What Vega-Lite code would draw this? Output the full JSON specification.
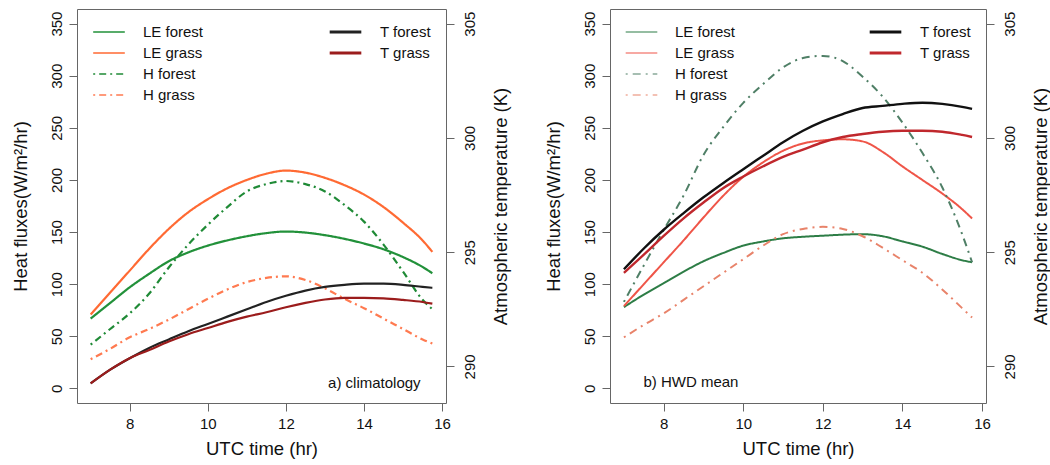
{
  "$schema": "https://vega.github.io/schema/vega-lite/v6.json",
  "padding": {"left": 10, "top": 8, "right": 0, "bottom": 2},
  "config": {
    "font": "Liberation Sans",
    "view": {"stroke": "#666", "strokeWidth": 1},
    "axis": {"grid": false, "domain": false, "tickColor": "#666", "tickSize": 8, "labelFontSize": 15, "labelColor": "#111", "titleFontSize": 18.5, "titleFontWeight": "normal", "titleColor": "#111"},
    "legend": {"title": null, "padding": 0, "labelFontSize": 15, "labelColor": "#111", "symbolType": "stroke", "symbolSize": 1000, "labelOffset": 17, "clipHeight": 16, "rowPadding": 5}
  },
  "datasets": {
    "fluxA": [
      {"t":7,"s":"LE forest","v":67},{"t":7.5,"s":"LE forest","v":82},{"t":8,"s":"LE forest","v":97},{"t":8.5,"s":"LE forest","v":110},{"t":9,"s":"LE forest","v":122},{"t":9.5,"s":"LE forest","v":130.5},{"t":10,"s":"LE forest","v":137},{"t":10.5,"s":"LE forest","v":142},{"t":11,"s":"LE forest","v":146},{"t":11.5,"s":"LE forest","v":149},{"t":12,"s":"LE forest","v":150.5},{"t":12.5,"s":"LE forest","v":149.5},{"t":13,"s":"LE forest","v":147},{"t":13.5,"s":"LE forest","v":143.5},{"t":14,"s":"LE forest","v":139},{"t":14.5,"s":"LE forest","v":133.5},{"t":15,"s":"LE forest","v":126},{"t":15.5,"s":"LE forest","v":116.5},{"t":15.75,"s":"LE forest","v":110.5},
      {"t":7,"s":"LE grass","v":71},{"t":7.5,"s":"LE grass","v":92},{"t":8,"s":"LE grass","v":113},{"t":8.5,"s":"LE grass","v":134},{"t":9,"s":"LE grass","v":153},{"t":9.5,"s":"LE grass","v":169},{"t":10,"s":"LE grass","v":181.5},{"t":10.5,"s":"LE grass","v":192},{"t":11,"s":"LE grass","v":200},{"t":11.5,"s":"LE grass","v":206},{"t":12,"s":"LE grass","v":209},{"t":12.5,"s":"LE grass","v":207},{"t":13,"s":"LE grass","v":202},{"t":13.5,"s":"LE grass","v":195},{"t":14,"s":"LE grass","v":186},{"t":14.5,"s":"LE grass","v":174},{"t":15,"s":"LE grass","v":159},{"t":15.5,"s":"LE grass","v":142},{"t":15.75,"s":"LE grass","v":131},
      {"t":7,"s":"H forest","v":42},{"t":7.5,"s":"H forest","v":57},{"t":8,"s":"H forest","v":72},{"t":8.5,"s":"H forest","v":91},{"t":9,"s":"H forest","v":116},{"t":9.5,"s":"H forest","v":138},{"t":10,"s":"H forest","v":157},{"t":10.5,"s":"H forest","v":174},{"t":11,"s":"H forest","v":189},{"t":11.5,"s":"H forest","v":196},{"t":12,"s":"H forest","v":199},{"t":12.5,"s":"H forest","v":196},{"t":13,"s":"H forest","v":189},{"t":13.5,"s":"H forest","v":176},{"t":14,"s":"H forest","v":160},{"t":14.5,"s":"H forest","v":138},{"t":15,"s":"H forest","v":112},{"t":15.5,"s":"H forest","v":85},{"t":15.75,"s":"H forest","v":76},
      {"t":7,"s":"H grass","v":28},{"t":7.5,"s":"H grass","v":38},{"t":8,"s":"H grass","v":49},{"t":8.5,"s":"H grass","v":57},{"t":9,"s":"H grass","v":66},{"t":9.5,"s":"H grass","v":76},{"t":10,"s":"H grass","v":86},{"t":10.5,"s":"H grass","v":95},{"t":11,"s":"H grass","v":102},{"t":11.5,"s":"H grass","v":106},{"t":12,"s":"H grass","v":107.5},{"t":12.5,"s":"H grass","v":104},{"t":13,"s":"H grass","v":96},{"t":13.5,"s":"H grass","v":86},{"t":14,"s":"H grass","v":77},{"t":14.5,"s":"H grass","v":67},{"t":15,"s":"H grass","v":57},{"t":15.5,"s":"H grass","v":47},{"t":15.75,"s":"H grass","v":43}
    ],
    "tempA": [
      {"t":7,"s":"T forest","k":289.26},{"t":7.5,"s":"T forest","k":289.86},{"t":8,"s":"T forest","k":290.36},{"t":8.5,"s":"T forest","k":290.81},{"t":9,"s":"T forest","k":291.18},{"t":9.5,"s":"T forest","k":291.54},{"t":10,"s":"T forest","k":291.86},{"t":10.5,"s":"T forest","k":292.18},{"t":11,"s":"T forest","k":292.5},{"t":11.5,"s":"T forest","k":292.82},{"t":12,"s":"T forest","k":293.09},{"t":12.5,"s":"T forest","k":293.32},{"t":13,"s":"T forest","k":293.48},{"t":13.5,"s":"T forest","k":293.57},{"t":14,"s":"T forest","k":293.62},{"t":14.5,"s":"T forest","k":293.62},{"t":15,"s":"T forest","k":293.57},{"t":15.5,"s":"T forest","k":293.48},{"t":15.75,"s":"T forest","k":293.44},
      {"t":7,"s":"T grass","k":289.26},{"t":7.5,"s":"T grass","k":289.86},{"t":8,"s":"T grass","k":290.36},{"t":8.5,"s":"T grass","k":290.72},{"t":9,"s":"T grass","k":291.09},{"t":9.5,"s":"T grass","k":291.41},{"t":10,"s":"T grass","k":291.68},{"t":10.5,"s":"T grass","k":291.95},{"t":11,"s":"T grass","k":292.18},{"t":11.5,"s":"T grass","k":292.37},{"t":12,"s":"T grass","k":292.59},{"t":12.5,"s":"T grass","k":292.78},{"t":13,"s":"T grass","k":292.93},{"t":13.5,"s":"T grass","k":293.0},{"t":14,"s":"T grass","k":293.0},{"t":14.5,"s":"T grass","k":292.98},{"t":15,"s":"T grass","k":292.91},{"t":15.5,"s":"T grass","k":292.82},{"t":15.75,"s":"T grass","k":292.75}
    ],
    "fluxB": [
      {"t":7,"s":"LE forest","v":78},{"t":7.5,"s":"LE forest","v":90},{"t":8,"s":"LE forest","v":101},{"t":8.5,"s":"LE forest","v":112},{"t":9,"s":"LE forest","v":122},{"t":9.5,"s":"LE forest","v":130},{"t":10,"s":"LE forest","v":137},{"t":10.5,"s":"LE forest","v":141},{"t":11,"s":"LE forest","v":144},{"t":11.5,"s":"LE forest","v":145.5},{"t":12,"s":"LE forest","v":146.5},{"t":12.5,"s":"LE forest","v":147.5},{"t":13,"s":"LE forest","v":148},{"t":13.5,"s":"LE forest","v":146},{"t":14,"s":"LE forest","v":141},{"t":14.5,"s":"LE forest","v":136},{"t":15,"s":"LE forest","v":129},{"t":15.5,"s":"LE forest","v":123},{"t":15.75,"s":"LE forest","v":121},
      {"t":7,"s":"LE grass","v":79},{"t":7.5,"s":"LE grass","v":100},{"t":8,"s":"LE grass","v":121},{"t":8.5,"s":"LE grass","v":142},{"t":9,"s":"LE grass","v":164},{"t":9.5,"s":"LE grass","v":185},{"t":10,"s":"LE grass","v":203},{"t":10.5,"s":"LE grass","v":217},{"t":11,"s":"LE grass","v":228},{"t":11.5,"s":"LE grass","v":235},{"t":12,"s":"LE grass","v":238},{"t":12.5,"s":"LE grass","v":239},{"t":13,"s":"LE grass","v":237},{"t":13.5,"s":"LE grass","v":227},{"t":14,"s":"LE grass","v":213},{"t":14.5,"s":"LE grass","v":200},{"t":15,"s":"LE grass","v":187},{"t":15.5,"s":"LE grass","v":172},{"t":15.75,"s":"LE grass","v":163},
      {"t":7,"s":"H forest","v":83},{"t":7.5,"s":"H forest","v":118},{"t":8,"s":"H forest","v":152},{"t":8.5,"s":"H forest","v":185},{"t":9,"s":"H forest","v":224},{"t":9.5,"s":"H forest","v":251},{"t":10,"s":"H forest","v":274},{"t":10.5,"s":"H forest","v":292},{"t":11,"s":"H forest","v":308},{"t":11.5,"s":"H forest","v":317},{"t":12,"s":"H forest","v":319},{"t":12.5,"s":"H forest","v":314},{"t":13,"s":"H forest","v":299},{"t":13.5,"s":"H forest","v":280},{"t":14,"s":"H forest","v":255},{"t":14.5,"s":"H forest","v":226},{"t":15,"s":"H forest","v":193},{"t":15.5,"s":"H forest","v":148},{"t":15.75,"s":"H forest","v":121},
      {"t":7,"s":"H grass","v":49},{"t":7.5,"s":"H grass","v":61},{"t":8,"s":"H grass","v":72},{"t":8.5,"s":"H grass","v":85},{"t":9,"s":"H grass","v":98},{"t":9.5,"s":"H grass","v":111},{"t":10,"s":"H grass","v":124},{"t":10.5,"s":"H grass","v":137},{"t":11,"s":"H grass","v":148},{"t":11.5,"s":"H grass","v":153},{"t":12,"s":"H grass","v":155},{"t":12.5,"s":"H grass","v":153},{"t":13,"s":"H grass","v":146},{"t":13.5,"s":"H grass","v":135},{"t":14,"s":"H grass","v":123},{"t":14.5,"s":"H grass","v":111},{"t":15,"s":"H grass","v":95},{"t":15.5,"s":"H grass","v":77},{"t":15.75,"s":"H grass","v":68}
    ],
    "tempB": [
      {"t":7,"s":"T forest","k":294.25},{"t":7.5,"s":"T forest","k":295.16},{"t":8,"s":"T forest","k":295.98},{"t":8.5,"s":"T forest","k":296.71},{"t":9,"s":"T forest","k":297.4},{"t":9.5,"s":"T forest","k":298.03},{"t":10,"s":"T forest","k":298.63},{"t":10.5,"s":"T forest","k":299.22},{"t":11,"s":"T forest","k":299.81},{"t":11.5,"s":"T forest","k":300.31},{"t":12,"s":"T forest","k":300.72},{"t":12.5,"s":"T forest","k":301.04},{"t":13,"s":"T forest","k":301.31},{"t":13.5,"s":"T forest","k":301.4},{"t":14,"s":"T forest","k":301.49},{"t":14.5,"s":"T forest","k":301.54},{"t":15,"s":"T forest","k":301.49},{"t":15.5,"s":"T forest","k":301.36},{"t":15.75,"s":"T forest","k":301.27},
      {"t":7,"s":"T grass","k":294.09},{"t":7.5,"s":"T grass","k":294.89},{"t":8,"s":"T grass","k":295.71},{"t":8.5,"s":"T grass","k":296.48},{"t":9,"s":"T grass","k":297.17},{"t":9.5,"s":"T grass","k":297.81},{"t":10,"s":"T grass","k":298.31},{"t":10.5,"s":"T grass","k":298.76},{"t":11,"s":"T grass","k":299.17},{"t":11.5,"s":"T grass","k":299.49},{"t":12,"s":"T grass","k":299.81},{"t":12.5,"s":"T grass","k":300.04},{"t":13,"s":"T grass","k":300.17},{"t":13.5,"s":"T grass","k":300.27},{"t":14,"s":"T grass","k":300.31},{"t":14.5,"s":"T grass","k":300.31},{"t":15,"s":"T grass","k":300.27},{"t":15.5,"s":"T grass","k":300.13},{"t":15.75,"s":"T grass","k":300.04}
    ]
  },
  "spacing": 33,
  "resolve": {
    "scale": {"x": "independent", "y": "independent", "color": "independent", "strokeDash": "independent", "stroke": "independent"},
    "legend": {"color": "independent", "strokeDash": "independent", "stroke": "independent"}
  },
  "hconcat": [
    {
      "width": 369,
      "height": 394,
      "encoding": {
        "x": {"field": "t", "type": "quantitative", "scale": {"domain": [6.65, 16.1], "nice": false, "zero": false}, "axis": {"values": [8, 10, 12, 14, 16], "title": "UTC time (hr)", "labelPadding": 5, "titlePadding": 8}}
      },
      "layer": [
        {
          "encoding": {
            "y": {"field": "v", "type": "quantitative", "scale": {"domain": [-14, 364], "nice": false, "zero": false}, "axis": {"orient": "left", "values": [0, 50, 100, 150, 200, 250, 300, 350], "title": "Heat fluxes(W/m²/hr)", "labelAngle": -90, "labelAlign": "center", "labelBaseline": "bottom", "labelPadding": 5, "titlePadding": 19}}
          },
          "layer": [
            {
              "data": {"name": "fluxA"},
              "mark": {"type": "line", "strokeWidth": 2.2, "interpolate": "monotone"},
              "encoding": {
                "color": {"field": "s", "type": "nominal", "scale": {"domain": ["LE forest", "LE grass", "H forest", "H grass"], "range": ["#22913a", "#ff6a33", "#1f8a36", "#ff7a50"]}, "legend": {"orient": "top-left", "offset": 15, "symbolStrokeWidth": 1.5}},
                "strokeDash": {"field": "s", "type": "nominal", "scale": {"domain": ["LE forest", "LE grass", "H forest", "H grass"], "range": [[1, 0], [1, 0], [2, 4, 7, 4], [2, 4, 7, 4]]}, "legend": {"orient": "top-left", "offset": 15, "symbolStrokeWidth": 1.5}}
              }
            },
            {
              "data": {"values": [{"t": 15.45, "v": 5.5, "label": "a) climatology"}]},
              "mark": {"type": "text", "align": "right", "baseline": "middle", "fontSize": 15, "color": "#111"},
              "encoding": {"text": {"field": "label"}}
            }
          ]
        },
        {
          "data": {"name": "tempA"},
          "mark": {"type": "line", "strokeWidth": 2.2, "interpolate": "monotone"},
          "encoding": {
            "y": {"field": "k", "type": "quantitative", "scale": {"domain": [288.4, 305.64], "nice": false, "zero": false}, "axis": {"orient": "right", "values": [290, 295, 300, 305], "title": "Atmospheric temperature (K)", "labelAngle": -90, "labelAlign": "center", "labelBaseline": "top", "labelPadding": 8, "titleAngle": -90, "titleBaseline": "top", "titlePadding": 14}},
            "stroke": {"field": "s", "type": "nominal", "scale": {"domain": ["T forest", "T grass"], "range": ["#222222", "#9b1c1c"]}, "legend": {"orient": "top-right", "offset": 15, "symbolStrokeWidth": 3}}
          }
        }
      ],
      "resolve": {"scale": {"y": "independent"}}
    },
    {
      "width": 376,
      "height": 394,
      "encoding": {
        "x": {"field": "t", "type": "quantitative", "scale": {"domain": [6.65, 16.1], "nice": false, "zero": false}, "axis": {"values": [8, 10, 12, 14, 16], "title": "UTC time (hr)", "labelPadding": 5, "titlePadding": 8}}
      },
      "layer": [
        {
          "encoding": {
            "y": {"field": "v", "type": "quantitative", "scale": {"domain": [-14, 364], "nice": false, "zero": false}, "axis": {"orient": "left", "values": [0, 50, 100, 150, 200, 250, 300, 350], "title": "Heat fluxes(W/m²/hr)", "labelAngle": -90, "labelAlign": "center", "labelBaseline": "bottom", "labelPadding": 5, "titlePadding": 19}}
          },
          "layer": [
            {
              "data": {"name": "fluxB"},
              "mark": {"type": "line", "strokeWidth": 2, "interpolate": "monotone"},
              "encoding": {
                "color": {"field": "s", "type": "nominal", "scale": {"domain": ["LE forest", "LE grass", "H forest", "H grass"], "range": ["#2d7d46", "#ef5548", "#4f7f66", "#e8836a"]}, "legend": {"orient": "top-left", "offset": 15, "symbolStrokeWidth": 1.2}},
                "strokeDash": {"field": "s", "type": "nominal", "scale": {"domain": ["LE forest", "LE grass", "H forest", "H grass"], "range": [[1, 0], [1, 0], [2, 5, 8, 5], [2, 5, 8, 5]]}, "legend": {"orient": "top-left", "offset": 15, "symbolStrokeWidth": 1.2}}
              }
            },
            {
              "data": {"values": [{"t": 7.49, "v": 6.4, "label": "b) HWD mean"}]},
              "mark": {"type": "text", "align": "left", "baseline": "middle", "fontSize": 15, "color": "#111"},
              "encoding": {"text": {"field": "label"}}
            }
          ]
        },
        {
          "data": {"name": "tempB"},
          "mark": {"type": "line", "strokeWidth": 2.4, "interpolate": "monotone"},
          "encoding": {
            "y": {"field": "k", "type": "quantitative", "scale": {"domain": [288.4, 305.64], "nice": false, "zero": false}, "axis": {"orient": "right", "values": [290, 295, 300, 305], "title": "Atmospheric temperature (K)", "labelAngle": -90, "labelAlign": "center", "labelBaseline": "top", "labelPadding": 8, "titleAngle": -90, "titleBaseline": "top", "titlePadding": 14}},
            "stroke": {"field": "s", "type": "nominal", "scale": {"domain": ["T forest", "T grass"], "range": ["#111111", "#c0282d"]}, "legend": {"orient": "top-right", "offset": 15, "symbolStrokeWidth": 3}}
          }
        }
      ],
      "resolve": {"scale": {"y": "independent"}}
    }
  ]
}
